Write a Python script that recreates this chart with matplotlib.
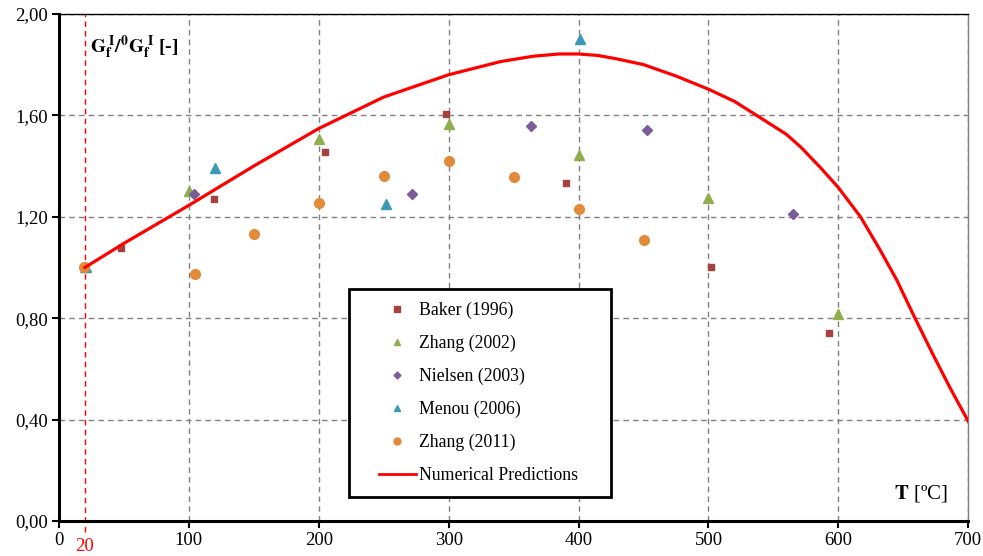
import matplotlib.pyplot as plt
from matplotlib.lines import Line2D
from matplotlib.legend_handler import HandlerLine2D

plt.rcParams['font.family'] = ['Liberation Serif', 'DejaVu Serif']
plt.rcParams['mathtext.fontset'] = 'stix'

# experimental data (T in ºC, ratio Gf/Gf0)
baker_t = [20, 48, 119, 205, 298, 390, 502, 593]
baker_g = [1.00, 1.075, 1.27, 1.455, 1.604, 1.332, 1.00, 0.742]

zhang02_t = [20, 100, 200, 300, 400, 500, 600]
zhang02_g = [1.00, 1.303, 1.505, 1.564, 1.442, 1.273, 0.818]

nielsen_t = [104, 272, 363, 453, 565]
nielsen_g = [1.288, 1.291, 1.558, 1.542, 1.211]

menou_t = [21, 120, 252, 401]
menou_g = [1.00, 1.391, 1.25, 1.901]

zhang11_t = [19, 105, 150, 200, 250, 300, 350, 400, 450]
zhang11_g = [1.00, 0.976, 1.133, 1.256, 1.361, 1.418, 1.358, 1.23, 1.11]

# numerical prediction curve
num_t = [20, 50, 100, 150, 200, 250, 300, 340, 365, 385, 400, 415, 430, 450,
         475, 500, 520, 537, 560, 571, 586, 600, 617, 632, 645, 659, 673,
         686, 700]
num_g = [1.00, 1.095, 1.245, 1.40, 1.548, 1.672, 1.76, 1.812, 1.833, 1.842,
         1.842, 1.836, 1.822, 1.80, 1.755, 1.703, 1.655, 1.60, 1.525, 1.475,
         1.395, 1.315, 1.20, 1.07, 0.95, 0.80, 0.655, 0.525, 0.393]

fig = plt.figure(figsize=(9.83, 5.56), dpi=100)
ax = fig.add_axes([0.060, 0.063, 0.925, 0.912])

ax.set_xlim(0, 700)
ax.set_ylim(0, 2.0)
ax.set_xticks(range(0, 701, 100))
ax.set_yticks([0, 0.4, 0.8, 1.2, 1.6, 2.0])
ax.set_yticklabels([f'{v:.2f}'.replace('.', ',') for v in ax.get_yticks()])
ax.tick_params(labelsize=13.5, direction='out', length=5, width=1.5, pad=3)
ax.grid(True, color='#808080', linestyle=(0, (4, 3)), linewidth=1)
ax.set_axisbelow(True)

for s in ['left', 'bottom']:
    ax.spines[s].set_linewidth(2.2)
ax.spines['top'].set_linewidth(1)
ax.spines['right'].set_linewidth(1)
ax.spines['right'].set_color('#808080')

# red reference line at 20 ºC
ax.axvline(20, ymin=-0.022, ymax=1, color='red', linestyle=(0, (4, 3)),
           linewidth=1, clip_on=False, zorder=2)
ax.text(20, -0.033, '20', color='red', fontsize=13.5, ha='center', va='top',
        transform=ax.get_xaxis_transform())

ax.plot(baker_t, baker_g, 's', color='#A5413F', ms=5, ls='none', zorder=3)
ax.plot(zhang02_t, zhang02_g, '^', color='#8FAE4E', ms=7, ls='none', zorder=3)
ax.plot(nielsen_t, nielsen_g, 'D', color='#7A5C99', ms=5, ls='none', zorder=3)
ax.plot(menou_t, menou_g, '^', color='#3B9AB6', ms=7, ls='none', zorder=3)
ax.plot(zhang11_t, zhang11_g, 'o', color='#E38A3A', ms=7, ls='none', zorder=3)
ax.plot(num_t, num_g, '-', color='#FF0000', lw=2.3, zorder=4)

handles = [
    Line2D([], [], marker='s', color='#A5413F', ms=4, ls='none'),
    Line2D([], [], marker='^', color='#8FAE4E', ms=5, ls='none'),
    Line2D([], [], marker='D', color='#7A5C99', ms=3.5, ls='none'),
    Line2D([], [], marker='^', color='#3B9AB6', ms=5, ls='none'),
    Line2D([], [], marker='o', color='#E38A3A', ms=5, ls='none'),
    Line2D([], [], color='#FF0000', lw=2),
]
labels = ['Baker (1996)', 'Zhang (2002)', 'Nielsen (2003)', 'Menou (2006)',
          'Zhang (2011)', 'Numerical Predictions']
leg = ax.legend(handles, labels, loc='lower left',
                bbox_to_anchor=(0.319, 0.047, 0.288, 0.415), mode='expand',
                borderaxespad=0, fontsize=12.8, labelspacing=0.88,
                handlelength=3.0, handletextpad=0.2, borderpad=0.75,
                handler_map={Line2D: HandlerLine2D(xpad=0.95)},
                fancybox=False, framealpha=1, edgecolor='black')
leg.get_frame().set_linewidth(2)

ax.text(0.034, 0.935, r'$\mathbf{G_f^{\ I}/^0G_f^{\ I}}$ [-]', transform=ax.transAxes,
        fontsize=14, fontweight='bold', va='center', ha='left')
ax.text(0.978, 0.055, r'$\mathbf{T}$ [ºC]', transform=ax.transAxes,
        fontsize=15, va='center', ha='right')

plt.savefig('out.png', dpi=100)
